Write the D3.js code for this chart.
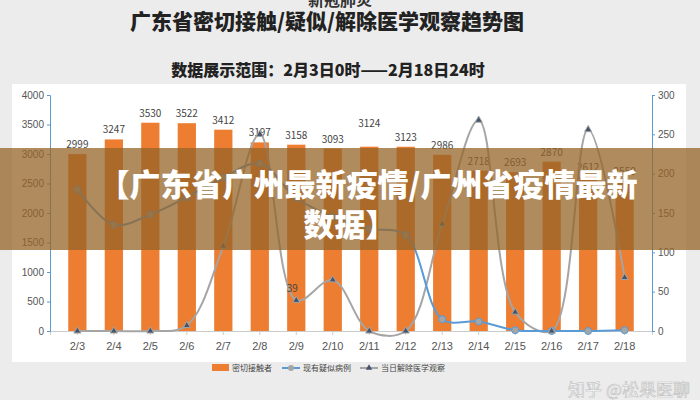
<!DOCTYPE html><html><head><meta charset="utf-8"><script src="https://cdn.jsdelivr.net/npm/d3@7"></script>
<style>body{margin:0;background:#ececec}svg{display:block;font-family:"Noto Sans CJK SC",sans-serif}</style></head><body><svg id="c" width="700" height="400"></svg><script>
const categories=["2/3","2/4","2/5","2/6","2/7","2/8","2/9","2/10","2/11","2/12","2/13","2/14","2/15","2/16","2/17","2/18"];
const contacts=[2999,3247,3530,3522,3412,3197,3158,3093,3124,3123,2986,2718,2693,2870,2612,2550];
const suspected=[180,135,148,170,195,213,169,145,130,122,15,12,1,0,0,1];
const released=[0,0,0,7,108,250,39,65,0,0,136,268,24,0,256,68];
const leftTicks=[0,500,1000,1500,2000,2500,3000,3500,4000];
const rightTicks=[0,50,100,150,200,250,300];
const svg=d3.select("#c");
svg.append("text").attr("x",340).attr("y",6).attr("text-anchor","middle").attr("font-size",16).attr("font-weight","bold").attr("fill","#333").text("新冠肺炎");
svg.append("text").attr("x",327).attr("y",29).attr("text-anchor","middle").attr("font-size",21).attr("font-weight","900").attr("fill","#222").text("广东省密切接触/疑似/解除医学观察趋势图");
svg.append("text").attr("x",328).attr("y",76).attr("text-anchor","middle").attr("font-size",16).attr("font-weight","900").attr("fill","#222").text("数据展示范围：2月3日0时——2月18日24时");
svg.append("rect").attr("x",12).attr("y",84).attr("width",674).attr("height",278).attr("fill","#fff");
const x=d3.scaleBand().domain(categories).range([50,652]).padding(0.5);
const yL=d3.scaleLinear().domain([0,4000]).range([331,95]);
const yR=d3.scaleLinear().domain([0,300]).range([331,95]);
const gx=svg.append("g").attr("transform","translate(0,331)").call(d3.axisBottom(x).tickSizeOuter(0).tickSize(4));
gx.selectAll("text").attr("font-size",11).attr("fill","#555").attr("dy","1.1em");
const gl=svg.append("g").attr("transform","translate(50,0)").call(d3.axisLeft(yL).tickValues(leftTicks).tickFormat(d3.format("d")).tickSize(3));
const gr=svg.append("g").attr("transform","translate(652,0)").call(d3.axisRight(yR).tickValues(rightTicks).tickFormat(d3.format("d")).tickSize(3));
[gl,gr].forEach(g=>{g.selectAll("text").attr("font-size",10).attr("fill","#555");g.selectAll("path,line").attr("stroke","#5b9bd5");});
gx.selectAll("path,line").attr("stroke","#ccc");
svg.append("g").selectAll("rect").data(contacts).join("rect").attr("x",(d,i)=>x(categories[i])).attr("width",x.bandwidth()).attr("y",d=>yL(d)).attr("height",d=>331-yL(d)).attr("fill","#ed7d31");
svg.append("g").selectAll("text").data(contacts).join("text").attr("x",(d,i)=>x(categories[i])+x.bandwidth()/2).attr("y",(d,i)=>yL(d)-6-(i==8?14:0)).attr("text-anchor","middle").attr("font-size",10).attr("fill","#444").text(d=>d);
const cx=i=>x(categories[i])+x.bandwidth()/2;
const line=s=>d3.line().x((d,i)=>cx(i)).y(d=>yR(d)).curve(d3.curveCatmullRom.alpha(0.5))(s);
svg.append("path").attr("d",line(released)).attr("fill","none").attr("stroke","#a5a5a5").attr("stroke-width",2);
svg.append("path").attr("d",line(suspected)).attr("fill","none").attr("stroke","#5b9bd5").attr("stroke-width",2);
svg.append("g").selectAll("circle").data(suspected).join("circle").attr("cx",(d,i)=>cx(i)).attr("cy",d=>yR(d)).attr("r",3.5).attr("fill","#a5a5a5").attr("stroke","#5b9bd5");
svg.append("g").selectAll("path").data(released).join("path").attr("transform",(d,i)=>`translate(${cx(i)},${yR(d)})`).attr("d",d3.symbol(d3.symbolTriangle,22)).attr("fill","#44546a").attr("stroke","#a5a5a5");
svg.append("text").attr("x",cx(6)-4).attr("y",yR(39)-8).attr("text-anchor","middle").attr("font-size",10).attr("fill","#444").text("39");
const lg=svg.append("g").attr("transform","translate(212,368)").attr("font-size",8).attr("fill","#444");
lg.append("rect").attr("x",0).attr("y",-4).attr("width",17).attr("height",7).attr("fill","#ed7d31");
lg.append("text").attr("x",20).attr("y",3).text("密切接触者");
lg.append("line").attr("x1",70).attr("x2",88).attr("stroke","#5b9bd5").attr("stroke-width",2);
lg.append("circle").attr("cx",79).attr("r",3).attr("fill","#a5a5a5");
lg.append("text").attr("x",91).attr("y",3).text("现有疑似病例");
lg.append("line").attr("x1",148).attr("x2",166).attr("stroke","#a5a5a5").attr("stroke-width",2);
lg.append("path").attr("transform","translate(157,0)").attr("d",d3.symbol(d3.symbolTriangle,18)).attr("fill","#44546a");
lg.append("text").attr("x",169).attr("y",3).text("当日解除医学观察");
svg.append("text").attr("x",690).attr("y",396).attr("text-anchor","end").attr("font-size",17).attr("fill","#fff").attr("stroke","#bbb").attr("stroke-width",0.6).text("知乎 @松果医聊");
svg.append("rect").attr("x",0).attr("y",148).attr("width",700).attr("height",102).attr("fill","rgba(150,100,40,0.75)");
svg.append("text").attr("x",368).attr("y",196).attr("text-anchor","middle").attr("font-size",31).attr("font-weight","900").attr("fill","#fff").text("【广东省广州最新疫情/广州省疫情最新");
svg.append("text").attr("x",350).attr("y",236).attr("text-anchor","middle").attr("font-size",31).attr("font-weight","900").attr("fill","#fff").text("数据】");
</script></body></html>
